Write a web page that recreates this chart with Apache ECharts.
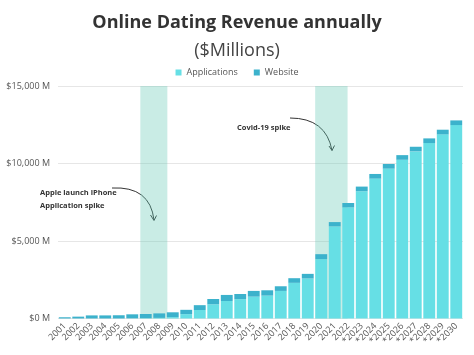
<!DOCTYPE html>
<html>
<head>
<meta charset="utf-8">
<script src="https://cdn.jsdelivr.net/npm/echarts@6/dist/echarts.min.js"></script>
<style>html,body{margin:0;padding:0;background:#fff}#c{width:474px;height:355px}</style>
</head>
<body>
<div id="c"></div>
<script>
const years = ['2001','2002','2003','2004','2005','2006','2007','2008','2009','2010','2011','2012','2013','2014','2015','2016','2017','2018','2019','2020','2021','2022','*2023','*2024','*2025','*2026','*2027','*2028','*2029','*2030'];
const applications = [0,0,0,0,0,10,20,40,90,280,550,915,1130,1250,1410,1475,1780,2300,2580,3830,5940,7170,8210,9025,9670,10240,10780,11320,11880,12480];
const website = [80,120,200,200,210,260,270,290,310,280,310,345,390,330,370,345,300,300,300,320,280,280,300,300,300,300,300,300,300,300];
const yTicks = [0,5000,10000,15000];
const bands = [[6.1,8.1],[19.05,21.45]];

const font = 'Open Sans';
const chart = echarts.init(document.getElementById('c'));
chart.setOption({
  animation:false,
  textStyle:{fontFamily:font},
  title:[
    {text:'Online Dating Revenue annually',left:'center',top:9,textStyle:{fontFamily:font,fontSize:18,fontWeight:'bold',color:'#333'}},
    {text:'($Millions)',left:'center',top:37,textStyle:{fontFamily:font,fontSize:18,fontWeight:'normal',color:'#444'}}
  ],
  legend:{top:63,left:'center',itemWidth:6,itemHeight:6,itemGap:16,icon:'rect',
    textStyle:{fontFamily:font,fontSize:9,color:'#555'},data:['Applications','Website']},
  grid:{left:58,right:11,top:86,bottom:36.5},
  xAxis:[
    {type:'category',data:years,axisTick:{show:false},axisLine:{show:false},
     axisLabel:{interval:0,rotate:45,fontSize:9,color:'#555',fontFamily:font,margin:6}},
    {type:'value',min:0,max:years.length,show:false}
  ],
  yAxis:{type:'value',min:yTicks[0],max:yTicks[yTicks.length-1],interval:5000,
    axisLine:{show:false},axisTick:{show:false},
    splitLine:{lineStyle:{color:'#e6e6e6',width:1}},
    axisLabel:{fontSize:9,color:'#555',fontFamily:font,margin:8,
      formatter:v=>'$'+v.toLocaleString('en-US')+' M'}},
  series:[
    {name:'Applications',type:'bar',stack:'t',data:applications,barCategoryGap:'12%',itemStyle:{color:'#66dfe5'}},
    {name:'Website',type:'bar',stack:'t',data:website,barCategoryGap:'12%',itemStyle:{color:'#3cb2cc'}},
    {name:'bands',type:'line',xAxisIndex:1,data:[],z:5,silent:true,
     markArea:{silent:true,itemStyle:{color:'rgba(100,200,180,0.35)'},
       data:bands.map(b=>[{xAxis:b[0]},{xAxis:b[1]}])}}
  ],
  graphic:[
    {type:'text',left:40,top:189,style:{text:'Apple launch iPhone',font:'bold 7.5px "Open Sans"',fill:'#333'}},
    {type:'text',left:40,top:202,style:{text:'Application spike',font:'bold 7.5px "Open Sans"',fill:'#333'}},
    {type:'bezierCurve',shape:{x1:112,y1:188,cpx1:150,cpy1:186,x2:154,y2:220},style:{stroke:'#333',lineWidth:1,fill:null}},
    {type:'polyline',shape:{points:[[150.5,215],[154,220.5],[156.5,215.5]]},style:{stroke:'#333',lineWidth:1,fill:null}},
    {type:'text',left:237,top:124,style:{text:'Covid-19 spike',font:'bold 7.5px "Open Sans"',fill:'#333'}},
    {type:'bezierCurve',shape:{x1:290,y1:118,cpx1:326,cpy1:118,x2:332,y2:150.5},style:{stroke:'#333',lineWidth:1,fill:null}},
    {type:'polyline',shape:{points:[[329,146],[332,150.5],[334.5,145.5]]},style:{stroke:'#333',lineWidth:1,fill:null}}
  ]
});
</script>
</body>
</html>
